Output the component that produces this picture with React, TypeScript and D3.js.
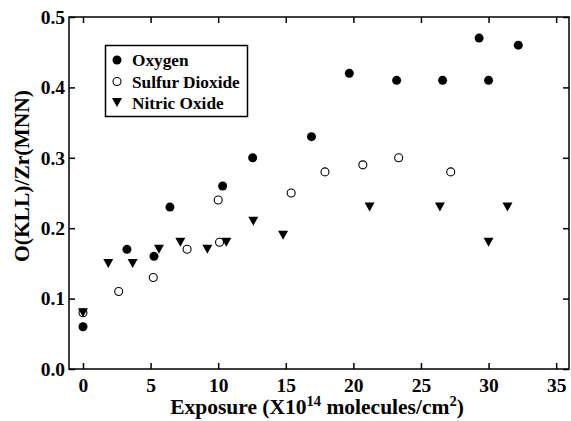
import React, { useRef, useEffect } from 'react';
import * as d3 from 'd3';

// values
const oxygenX = [0, 3.25, 5.25, 6.43, 10.33, 12.55, 16.9, 19.7, 23.2, 26.6, 29.3, 30.0, 32.2];
const oxygenY = [0.06, 0.17, 0.16, 0.23, 0.26, 0.30, 0.33, 0.42, 0.41, 0.41, 0.47, 0.41, 0.46];

const sulfurX = [0, 2.64, 5.2, 7.7, 10.0, 10.1, 15.4, 17.9, 20.7, 23.35, 27.2];
const sulfurY = [0.08, 0.11, 0.13, 0.17, 0.24, 0.18, 0.25, 0.28, 0.29, 0.30, 0.28];

const nitricX = [0, 1.87, 3.67, 5.62, 7.2, 9.2, 10.6, 12.6, 14.8, 21.2, 26.4, 30.0, 31.4];
const nitricY = [0.08, 0.15, 0.15, 0.17, 0.18, 0.17, 0.18, 0.21, 0.19, 0.23, 0.23, 0.18, 0.23];

const xTicks = [0, 5, 10, 15, 20, 25, 30, 35];
const yTicks = [0, 0.1, 0.2, 0.3, 0.4, 0.5];
const seriesNames = ['Oxygen', 'Sulfur Dioxide', 'Nitric Oxide'];

const FONT = "'Liberation Serif', 'Times New Roman', Times, 'DejaVu Serif', serif";

const App = () => {
  const svgRef = useRef<SVGSVGElement>(null);

  useEffect(() => {
    const svg = d3.select(svgRef.current);
    svg.selectAll('*').remove();

    const W = 571, H = 421;
    const left = 69, right = 569, top = 17, bottom = 369;

    const x = d3.scaleLinear().domain([-1.035, 35.95]).range([left, right]);
    const y = d3.scaleLinear().domain([0, 0.5]).range([bottom, top]);

    svg.attr('width', W).attr('height', H);

    // axes, ticks pointing inward
    const styleAxis = (g: any) => {
      g.attr('font-family', null).attr('font-size', null);
      g.select('.domain').remove();
      g.selectAll('.tick line').attr('stroke', '#000').attr('stroke-width', 1.5);
      g.selectAll('.tick text').attr('fill', '#000')
        .style('font-family', FONT).style('font-weight', 'bold').style('font-size', '19.5px');
    };

    svg.append('g')
      .attr('transform', `translate(0,${bottom})`)
      .call(d3.axisBottom(x).tickValues(xTicks).tickSize(-6).tickPadding(9).tickFormat(d3.format('d')))
      .call(styleAxis);

    svg.append('g')
      .attr('transform', `translate(0,${top})`)
      .call(d3.axisTop(x).tickValues(xTicks).tickSize(-6).tickFormat(() => ''))
      .call(styleAxis);

    svg.append('g')
      .attr('transform', `translate(${left},0)`)
      .call(d3.axisLeft(y).tickValues(yTicks).tickSize(-6).tickPadding(4).tickFormat(d3.format('.1f')))
      .call(styleAxis);

    svg.append('g')
      .attr('transform', `translate(${right},0)`)
      .call(d3.axisRight(y).tickValues(yTicks).tickSize(-6).tickFormat(() => ''))
      .call(styleAxis);

    // frame
    svg.append('rect')
      .attr('x', left).attr('y', top)
      .attr('width', right - left).attr('height', bottom - top)
      .attr('fill', 'none').attr('stroke', '#000').attr('stroke-width', 1.5);

    const tri = 'M-5,-4.5L5,-4.5L0,4.5Z';

    // points
    const oxygen = oxygenX.map((v, i) => [v, oxygenY[i]]);
    const sulfur = sulfurX.map((v, i) => [v, sulfurY[i]]);
    const nitric = nitricX.map((v, i) => [v, nitricY[i]]);

    svg.append('g').selectAll('circle').data(oxygen).enter().append('circle')
      .attr('cx', d => x(d[0])).attr('cy', d => y(d[1])).attr('r', 4.5).attr('fill', '#000');

    svg.append('g').selectAll('circle').data(sulfur).enter().append('circle')
      .attr('cx', d => x(d[0])).attr('cy', d => y(d[1])).attr('r', 4)
      .attr('fill', '#fff').attr('stroke', '#000').attr('stroke-width', 1.1);

    svg.append('g').selectAll('path').data(nitric).enter().append('path')
      .attr('d', tri)
      .attr('transform', d => `translate(${x(d[0])},${y(d[1])})`)
      .attr('fill', '#000');

    // legend
    const lg = svg.append('g');
    lg.append('rect').attr('x', 105.5).attr('y', 45.5).attr('width', 142).attr('height', 71)
      .attr('fill', '#fff').attr('stroke', '#000').attr('stroke-width', 1.5);
    const rowY = [60, 81.5, 102.5];
    lg.append('circle').attr('cx', 117).attr('cy', rowY[0]).attr('r', 4.5).attr('fill', '#000');
    lg.append('circle').attr('cx', 117).attr('cy', rowY[1]).attr('r', 4)
      .attr('fill', '#fff').attr('stroke', '#000').attr('stroke-width', 1.1);
    lg.append('path').attr('d', tri).attr('transform', `translate(117,${rowY[2]})`).attr('fill', '#000');
    lg.selectAll('text').data(seriesNames).enter().append('text')
      .attr('x', 132).attr('y', (d, i) => rowY[i] + 6)
      .style('font-family', FONT).style('font-weight', 'bold').style('font-size', '17.3px')
      .text(d => d);

    // axis titles
    const xt = svg.append('text')
      .attr('x', (left + right) / 2 - 2).attr('y', 414)
      .attr('text-anchor', 'middle')
      .style('font-family', FONT).style('font-weight', 'bold').style('font-size', '21.5px');
    xt.append('tspan').text('Exposure (X10');
    xt.append('tspan').attr('dy', -8).style('font-size', '14.5px').text('14');
    xt.append('tspan').attr('dy', 8).text(' molecules/cm');
    xt.append('tspan').attr('dy', -8).style('font-size', '14.5px').text('2');
    xt.append('tspan').attr('dy', 8).text(')');

    svg.append('text')
      .attr('transform', 'translate(29,176) rotate(-90)')
      .attr('text-anchor', 'middle')
      .style('font-family', FONT).style('font-weight', 'bold').style('font-size', '21.5px')
      .text('O(KLL)/Zr(MNN)');
  }, []);

  return <svg ref={svgRef} style={{ position: 'absolute', left: 0, top: 0, display: 'block' }}></svg>;
};

export default App;
